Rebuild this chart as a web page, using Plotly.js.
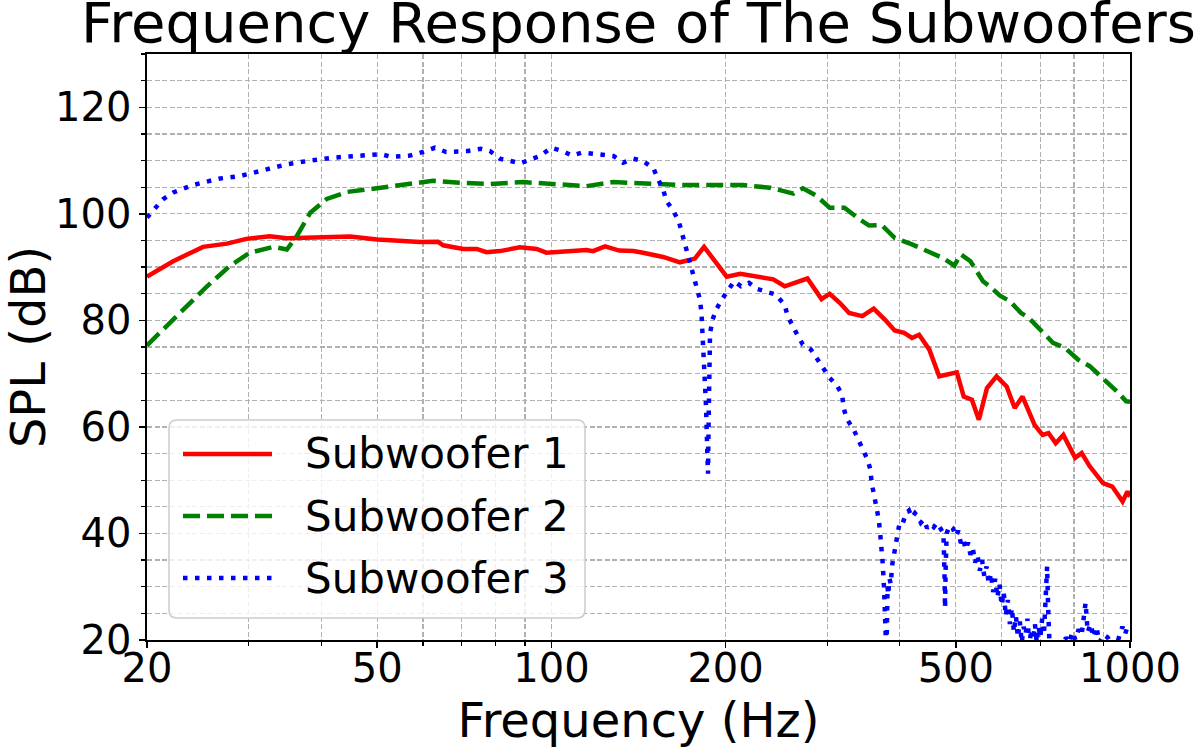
<!DOCTYPE html>
<html>
<head>
<meta charset="utf-8">
<script src="https://cdn.plot.ly/plotly-3.0.1.min.js"></script>
<style>html,body{margin:0;padding:0;background:#fff;}#chart{width:1200px;height:748px;}</style>
</head>
<body>
<div id="chart"></div>
<script>
// ---- Data ----
const seriesNames = ["Subwoofer 1", "Subwoofer 2", "Subwoofer 3"];

const freq1 = [20, 22.2, 25, 27.5, 29.7, 32.6, 34.9, 37.7, 40.9, 44.9, 50, 55.5, 59.3, 63.7, 65, 70.4, 74.3, 77.2, 81.4, 88.2, 94.3, 98, 107.6, 115, 118, 123.8, 131, 138.6, 144, 156, 166.8, 177, 183.6, 193, 200.9, 212, 222.6, 241.8, 253, 265, 277, 293, 302.6, 315, 327, 344.6, 360.6, 377, 392, 407, 420, 432, 450, 468, 485, 502, 516, 533, 548, 566, 588, 612, 632, 652, 684, 706, 723, 744, 767, 804, 825, 852, 898, 932, 971, 990, 1000];
const spl1 = [88.2, 91.1, 93.8, 94.4, 95.3, 95.8, 95.4, 95.5, 95.8, 95.75, 95.2, 94.9, 94.7, 94.75, 94.1, 93.4, 93.4, 92.8, 93.0, 93.7, 93.4, 92.7, 93.0, 93.2, 93.0, 93.9, 93.1, 93.0, 92.7, 91.9, 90.9, 91.6, 93.8, 90.8, 88.2, 88.75, 88.3, 87.7, 86.4, 87.05, 87.85, 84.0, 85.0, 83.3, 81.4, 80.8, 82.2, 80.15, 78.1, 77.65, 76.7, 77.3, 74.5, 69.5, 69.8, 70.25, 65.7, 65.1, 61.35, 67.3, 69.5, 67.6, 63.55, 65.7, 60.4, 58.5, 58.85, 56.95, 58.5, 54.2, 55.1, 52.6, 49.45, 48.8, 46.0, 47.9, 46.9];

const freq2 = [20, 22.8, 25.4, 27.8, 30.1, 33.1, 34.9, 36.3, 38.3, 40.9, 44.3, 49.2, 54.7, 62.4, 69.4, 78.3, 89.4, 103.4, 115, 127.9, 141, 145.8, 166.8, 195.6, 214.6, 238.6, 262, 272, 287, 302.6, 321, 340.6, 354, 372, 392, 420, 444, 474, 497, 510, 530, 557, 572, 596, 620, 648, 668, 700, 736, 773, 814, 852, 910, 955, 985, 1000];
const spl2 = [75.3, 81.4, 86.4, 90.2, 92.7, 93.8, 93.3, 95.8, 100.2, 102.8, 104.1, 104.7, 105.4, 106.2, 105.85, 105.6, 105.95, 105.6, 105.2, 105.95, 105.7, 105.7, 105.4, 105.4, 105.4, 104.9, 103.8, 104.8, 103.4, 101.15, 101.15, 99.0, 97.8, 97.9, 95.5, 94.25, 93.2, 91.75, 90.3, 92.4, 91.1, 87.35, 86.4, 84.65, 83.6, 81.4, 80.5, 78.3, 75.8, 74.8, 72.6, 71.4, 68.55, 66.4, 64.8, 64.7];

const freq3 = [20, 21.3, 22.2, 24, 26.6, 29, 31.8, 34.9, 38.3, 42, 46, 50.7, 52.9, 57, 60, 62.9, 65.8, 71.8, 75.5, 78.3, 81.4, 84.7, 88.4, 95.5, 100, 104.4, 108.5, 113, 118, 128, 133, 138.6, 144, 150, 153, 156, 158, 162, 166, 168, 170, 172, 175.6, 178.6, 180.6, 181.7, 182.5, 183.7, 185, 186, 186.5, 187, 187.5, 188, 190, 192.6, 197, 202, 207, 212.6, 219.5, 226.6, 236, 244, 253, 256, 265, 272, 281, 287, 294.6, 302.6, 311, 318, 320, 324, 333, 339, 345.6, 352, 356, 357.6, 360.6, 365, 368, 370, 372, 374, 376, 377, 378, 379, 380, 381, 382, 384, 386, 388, 391, 395, 400, 405, 410, 415, 420, 425, 430, 435, 440, 446, 452, 458, 464, 470, 476, 478, 479, 480, 482, 488, 494, 500, 505, 510, 515, 520, 525, 530, 535, 540, 545, 550, 555, 560, 565, 570, 575, 580, 585, 590, 595, 600, 605, 610, 615, 620, 625, 630, 635, 640, 645, 650, 655, 660, 665, 670, 675, 680, 685, 690, 695, 700, 705, 710, 715, 719, 722, 726, 735, 760, 775, 785, 795, 805, 815, 825, 838, 845, 855, 865, 875, 885, 900, 915, 930, 945, 960, 970, 980, 990, 1000];
const spl3 = [99.3, 102.7, 104.0, 105.4, 106.6, 107.1, 108.2, 109.3, 110.0, 110.55, 110.85, 111.2, 110.7, 110.95, 111.6, 112.4, 111.6, 111.8, 112.2, 111.8, 110.35, 109.9, 109.5, 110.85, 112.4, 111.8, 110.95, 111.5, 111.2, 110.85, 109.6, 110.35, 109.9, 108.6, 106.4, 104.6, 102.4, 100.8, 98.6, 96.5, 94.6, 92.7, 89.5, 86.4, 83.9, 81.4, 77.7, 72.0, 64.0, 55.0, 51.2, 62.0, 71.4, 77.6, 80.2, 82.0, 83.9, 85.8, 87.35, 86.4, 87.05, 85.9, 85.2, 84.85, 82.95, 80.8, 77.65, 75.45, 74.5, 72.95, 71.1, 69.2, 67.9, 66.05, 63.5, 61.5, 59.5, 57.6, 56.0, 53.8, 51.95, 49.45, 47.6, 45.05, 42.55, 40.05, 37.55, 34.0, 29.0, 25.5, 21.5, 18.0, 22.0, 30.0, 28.5, 31.5, 30.5, 34.0, 36.0, 39.5, 42.2, 42.0, 43.8, 44.3, 43.0, 43.8, 43.2, 42.0, 42.6, 41.0, 41.8, 41.2, 42.0, 41.0, 40.0, 32.0, 26.0, 33.0, 40.0, 41.5, 41.0, 39.5, 40.5, 38.2, 39.0, 37.0, 38.3, 36.0, 37.2, 34.5, 36.0, 33.0, 35.0, 32.0, 33.8, 30.5, 32.5, 29.0, 31.5, 28.0, 30.5, 26.5, 29.0, 24.5, 27.5, 23.0, 26.0, 21.5, 24.5, 20.5, 23.5, 19.5, 22.5, 21.0, 24.0, 19.0, 22.0, 20.0, 23.0, 19.5, 22.5, 20.5, 24.0, 21.0, 27.0, 33.8, 26.0, 19.0, 17.0, 17.0, 20.5, 19.5, 21.5, 20.0, 22.0, 21.0, 27.0, 21.5, 23.0, 20.5, 22.5, 19.5, 21.0, 20.5, 19.0, 18.5, 21.0, 22.5, 21.0, 22.5, 21.8];

const xTickVals = [20, 50, 100, 200, 500, 1000];
const xTickText = ["20", "50", "100", "200", "500", "1000"];
const xMinorVals = [30, 40, 60, 70, 80, 90, 300, 400, 600, 700, 800, 900];

// ---- Styling ----
const FONT = "DejaVu Sans, Liberation Sans, sans-serif";
const gridColor = "#b0b0b0";
const gridDash = "5px,2.5px";

const traces = [
  {x: freq1, y: spl1, name: seriesNames[0], type: "scatter", mode: "lines",
   line: {color: "#ff0000", width: 4.5}, showlegend: false},
  {x: freq2, y: spl2, name: seriesNames[1], type: "scatter", mode: "lines",
   line: {color: "#008000", width: 4.5, dash: "17px,7px"}, showlegend: false},
  {x: freq3, y: spl3, name: seriesNames[2], type: "scatter", mode: "lines",
   line: {color: "#0000ff", width: 4.5, dash: "4.5px,7.5px"}, showlegend: false}
];

// plot area in pixels: left 147, right 1130, top 54, bottom 640
const L = 147, R = 1130, T = 54, B = 640;
const px = v => (v - L) / (R - L);
const py = v => (B - v) / (B - T);

// custom legend box (rounded)
const bx0 = 169, bx1 = 585, by0 = 420, by1 = 618, rr = 8;
function rp(x, y) { return px(x) + "," + py(y); }
const boxPath = "M" + rp(bx0 + rr, by0) + " L" + rp(bx1 - rr, by0) + " Q" + rp(bx1, by0) + " " + rp(bx1, by0 + rr) +
  " L" + rp(bx1, by1 - rr) + " Q" + rp(bx1, by1) + " " + rp(bx1 - rr, by1) +
  " L" + rp(bx0 + rr, by1) + " Q" + rp(bx0, by1) + " " + rp(bx0, by1 - rr) +
  " L" + rp(bx0, by0 + rr) + " Q" + rp(bx0, by0) + " " + rp(bx0 + rr, by0) + " Z";

const rowsY = [454, 516, 578];
const shapes = [
  {type: "path", xref: "paper", yref: "paper", path: boxPath,
   fillcolor: "rgba(255,255,255,0.8)", line: {color: "#cccccc", width: 1.5}, layer: "above"}
];
const annotations = [];
traces.forEach((t, i) => {
  shapes.push({type: "line", xref: "paper", yref: "paper",
    x0: px(183), x1: px(272), y0: py(rowsY[i]), y1: py(rowsY[i]),
    line: {color: t.line.color, width: 4.5, dash: t.line.dash || "solid"}, layer: "above"});
  annotations.push({xref: "paper", yref: "paper", x: px(303), y: py(rowsY[i]),
    xanchor: "left", yanchor: "middle", showarrow: false, text: t.name,
    font: {family: FONT, size: 42, color: "#000"}});
});

const layout = {
  width: 1200, height: 748,
  margin: {l: L, r: 1200 - R, t: T, b: 748 - B, pad: 0},
  paper_bgcolor: "#ffffff", plot_bgcolor: "#ffffff",
  font: {family: FONT, color: "#000"},
  title: {text: "Frequency Response of The Subwoofers", font: {family: FONT, size: 56, color: "#000"},
          xref: "paper", x: 0.5, xanchor: "center", yref: "container", y: 1 - 22 / 748, yanchor: "middle"},
  showlegend: false,
  xaxis: {
    type: "log", range: [Math.log10(20), 3],
    tickmode: "array", tickvals: xTickVals, ticktext: xTickText,
    ticks: "outside", ticklen: 6, tickwidth: 1.5, tickcolor: "#000",
    ticklabelstandoff: -14,
    tickfont: {family: FONT, size: 40, color: "#000"},
    showgrid: true, gridcolor: gridColor, griddash: gridDash, gridwidth: 1.2,
    minor: {tickmode: "array", tickvals: xMinorVals, ticks: "outside", ticklen: 4, tickwidth: 1.2, tickcolor: "#000",
            showgrid: true, gridcolor: gridColor, griddash: gridDash, gridwidth: 1.2},
    showline: true, linecolor: "#000", linewidth: 1.6, mirror: true,
    zeroline: false,
    title: {text: "Frequency (Hz)", font: {family: FONT, size: 48, color: "#000"}, standoff: 18},
    automargin: false
  },
  yaxis: {
    range: [20, 130],
    tickmode: "linear", tick0: 0, dtick: 20,
    ticks: "outside", ticklen: 6, tickwidth: 1.5, tickcolor: "#000",
    tickfont: {family: FONT, size: 40, color: "#000"},
    showgrid: true, gridcolor: gridColor, griddash: gridDash, gridwidth: 1.2,
    minor: {dtick: 5, tick0: 0, ticks: "outside", ticklen: 4, tickwidth: 1.2, tickcolor: "#000",
            showgrid: true, gridcolor: gridColor, griddash: gridDash, gridwidth: 1.2},
    showline: true, linecolor: "#000", linewidth: 1.6, mirror: true,
    zeroline: false,
    title: {text: "SPL (dB)", font: {family: FONT, size: 48, color: "#000"}, standoff: 10},
    automargin: false
  },
  shapes: shapes,
  annotations: annotations
};

Plotly.newPlot("chart", traces, layout, {displayModeBar: false, staticPlot: true});
</script>
</body>
</html>
